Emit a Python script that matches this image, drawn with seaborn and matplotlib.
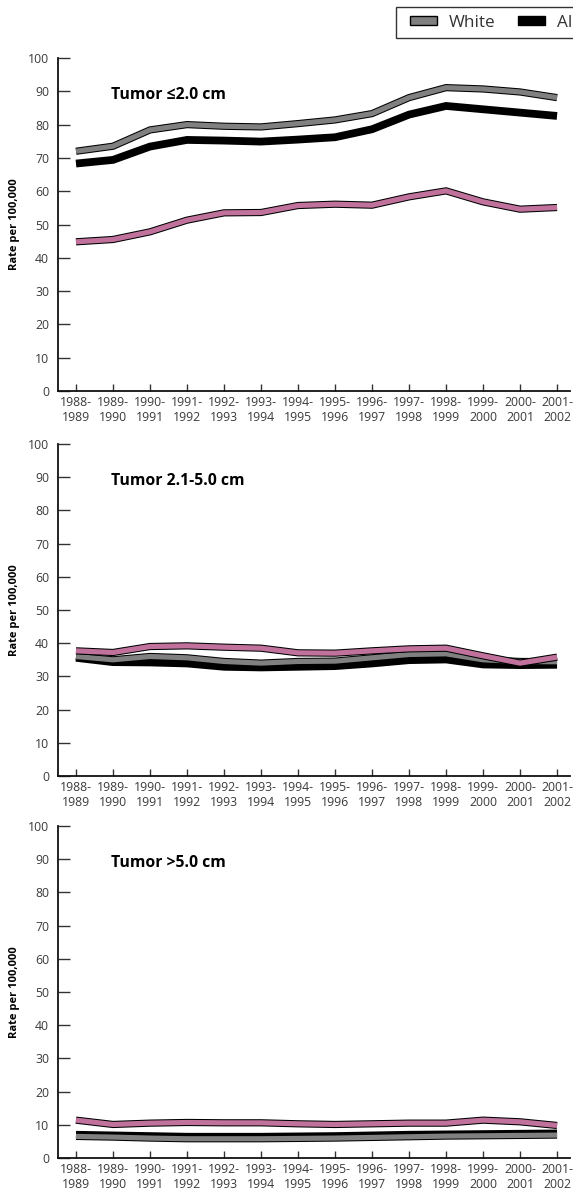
import numpy as np
import pandas as pd
import matplotlib
matplotlib.use("Agg")
import matplotlib.pyplot as plt
import matplotlib.patheffects as pe
from matplotlib.patches import Patch
from matplotlib.legend_handler import HandlerPatch
import seaborn as sns

# ---------------- data ----------------
periods = ["1988-\n1989", "1989-\n1990", "1990-\n1991", "1991-\n1992", "1992-\n1993",
           "1993-\n1994", "1994-\n1995", "1995-\n1996", "1996-\n1997", "1997-\n1998",
           "1998-\n1999", "1999-\n2000", "2000-\n2001", "2001-\n2002"]
series_names = ["All races", "White", "Black"]
panel_titles = ["Tumor \u22642.0 cm", "Tumor 2.1-5.0 cm", "Tumor >5.0 cm"]

# Tumor <=2.0 cm
all_small = [68.3, 69.4, 73.4, 75.4, 75.2, 74.9, 75.5, 76.2, 78.6, 83.0, 85.6, 84.6, 83.6, 82.6]
white_small = [72.0, 73.5, 78.4, 80.0, 79.5, 79.3, 80.3, 81.4, 83.3, 88.1, 91.1, 90.7, 89.8, 88.1]
black_small = [44.8, 45.5, 47.8, 51.3, 53.5, 53.6, 55.7, 56.1, 55.8, 58.3, 60.1, 56.8, 54.6, 55.1]

# Tumor 2.1-5.0 cm
all_mid = [35.6, 34.3, 34.2, 33.9, 32.9, 32.7, 32.9, 33.1, 33.9, 34.9, 35.1, 33.6, 33.4, 33.5]
white_mid = [36.0, 35.0, 36.0, 35.6, 34.5, 34.0, 34.5, 34.6, 35.6, 36.6, 36.8, 35.0, 34.5, 34.4]
black_mid = [37.7, 37.2, 39.0, 39.2, 38.8, 38.5, 37.1, 37.0, 37.7, 38.3, 38.5, 36.2, 34.0, 35.8]

# Tumor >5.0 cm
all_large = [7.0, 6.8, 6.6, 6.4, 6.4, 6.4, 6.5, 6.6, 6.8, 7.0, 7.1, 7.2, 7.3, 7.4]
white_large = [6.5, 6.3, 6.0, 5.8, 5.8, 5.8, 5.9, 6.0, 6.2, 6.4, 6.6, 6.7, 6.8, 6.9]
black_large = [11.4, 10.1, 10.5, 10.7, 10.6, 10.6, 10.3, 10.1, 10.3, 10.5, 10.5, 11.4, 10.9, 9.8]

panels = [
    (all_small, white_small, black_small),
    (all_mid, white_mid, black_mid),
    (all_large, white_large, black_large),
]

colors = {"All races": "#000000", "White": "#808080", "Black": "#c0729d"}

# ---------------- style ----------------
sns.set_theme(style="white")
plt.rcParams["font.family"] = ["Open Sans", "DejaVu Sans"]

W, H = 573, 1198
fig = plt.figure(figsize=(W / 100, H / 100), dpi=100)

left_px, right_px = 58, 570
axes_px = [(58, 391), (444, 776), (826, 1158)]  # (top, bottom) in pixels

xpos = np.arange(len(periods))
tick_col = "#3a3a3a"

for (top, bot), vals, title in zip(axes_px, panels, panel_titles):
    ax = fig.add_axes([left_px / W, 1 - bot / H, (right_px - left_px) / W, (bot - top) / H])
    rows = []
    for name, v in zip(series_names, vals):
        for i, val in enumerate(v):
            rows.append({"x": xpos[i], "rate": val, "group": name})
    df = pd.DataFrame(rows)

    for name in series_names:
        sub = df[df["group"] == name]
        if name == "All races":
            sns.lineplot(data=sub, x="x", y="rate", ax=ax, color=colors[name],
                         linewidth=5.6, sort=False, legend=False,
                         solid_capstyle="butt", solid_joinstyle="miter")
        else:
            sns.lineplot(data=sub, x="x", y="rate", ax=ax, color=colors[name],
                         linewidth=3.7, sort=False, legend=False,
                         solid_capstyle="butt", solid_joinstyle="miter",
                         path_effects=[pe.Stroke(linewidth=5.2, foreground="black"),
                                       pe.Normal()])

    ax.set_xlim(-0.486, 13.35)
    ax.set_ylim(0, 100)
    ax.set_yticks(np.arange(0, 101, 10))
    ax.set_xticks(xpos)
    ax.set_xticklabels(periods)
    for t in ax.get_xticklabels():
        t.set_linespacing(1.25)
    ax.set_xlabel("")
    ax.set_ylabel("Rate per 100,000", fontsize=8, fontweight="bold", color="black")
    ax.yaxis.set_label_coords(-0.074, 0.5)

    sns.despine(ax=ax)
    for s in ("left", "bottom"):
        ax.spines[s].set_color("#111111")
        ax.spines[s].set_linewidth(1.3)

    ax.tick_params(axis="y", direction="in", length=8.6, width=1.0, color="#333333",
                   pad=6.5, labelsize=8.8, labelcolor=tick_col, left=True)
    ax.tick_params(axis="x", direction="in", length=5.0, width=1.0, color="#333333",
                   pad=3.5, labelsize=8.8, labelcolor=tick_col, bottom=True)

    ax.text(0.95, 89, title, fontsize=11.3, fontweight="bold", color="black",
            va="center", ha="left")

handles = [Patch(facecolor=colors["White"], edgecolor="black", label="White"),
           Patch(facecolor=colors["All races"], edgecolor="black", label="All races"),
           Patch(facecolor=colors["Black"], edgecolor="black", label="Black")]
leg = fig.legend(handles=handles, loc="upper left", bbox_to_anchor=(396 / W, 1 - 7 / H),
                 ncol=3, frameon=True, fancybox=False, edgecolor="#333333", framealpha=1,
                 fontsize=12.3, handlelength=1.95, handleheight=0.5, handletextpad=0.7,
                 columnspacing=0.94, borderpad=0.45, borderaxespad=0,
                 handler_map={Patch: HandlerPatch(xpad=0.36)})
leg.get_frame().set_linewidth(1.0)
for t in leg.get_texts():
    t.set_color("#333333")

fig.savefig("out.png", dpi=100)
